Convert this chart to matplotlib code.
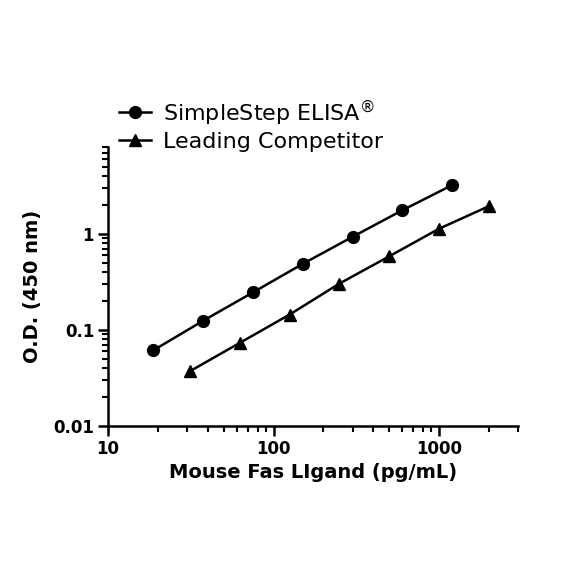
import matplotlib
matplotlib.use('Agg')
import matplotlib.pyplot as plt
from matplotlib.ticker import LogLocator, NullFormatter

# Данные кривых
simplestep_conc = [18.75, 37.5, 75, 150, 300, 600, 1200]
simplestep_od = [0.061, 0.124, 0.245, 0.486, 0.93, 1.76, 3.22]
competitor_conc = [31.25, 62.5, 125, 250, 500, 1000, 2000]
competitor_od = [0.037, 0.073, 0.144, 0.303, 0.583, 1.13, 1.94]

x_ticks = [10, 100, 1000]
x_tick_labels = ['10', '100', '1000']
y_ticks = [0.01, 0.1, 1]
y_tick_labels = ['0.01', '0.1', '1']

plt.rcParams['font.family'] = ['DejaVu Sans']

fig = plt.figure(figsize=(5.84, 5.84), dpi=100)
ax = fig.add_axes([0.185, 0.271, 0.702, 0.477])

l1, = ax.plot(simplestep_conc, simplestep_od, color='black', lw=1.8,
              marker='o', markersize=8.5, label='SimpleStep ELISA$^{®}$')
l2, = ax.plot(competitor_conc, competitor_od, color='black', lw=1.8,
              marker='^', markersize=9, label='Leading Competitor')

ax.set_xscale('log')
ax.set_yscale('log')
ax.set_xlim(10, 3000)
ax.set_ylim(0.01, 8)

ax.set_xticks(x_ticks)
ax.set_xticklabels(x_tick_labels)
ax.set_yticks(y_ticks)
ax.set_yticklabels(y_tick_labels)
ax.xaxis.set_minor_locator(LogLocator(base=10, subs=range(2, 10), numticks=20))
ax.yaxis.set_minor_locator(LogLocator(base=10, subs=range(2, 10), numticks=20))
ax.xaxis.set_minor_formatter(NullFormatter())
ax.yaxis.set_minor_formatter(NullFormatter())

for side in ['top', 'right']:
    ax.spines[side].set_visible(False)
for side in ['left', 'bottom']:
    ax.spines[side].set_linewidth(1.8)

ax.tick_params(which='major', length=7, width=1.8, labelsize=12, pad=3)
ax.tick_params(which='minor', length=4, width=1.5)
for lab in ax.get_xticklabels() + ax.get_yticklabels():
    lab.set_fontweight('bold')

ax.set_xlabel('Mouse Fas LIgand (pg/mL)', fontsize=14, fontweight='bold', labelpad=4)
ax.set_ylabel('O.D. (450 nm)', fontsize=14, fontweight='bold', labelpad=8)

ax.legend(handles=[l1, l2], loc='lower left', bbox_to_anchor=(0.004, 0.95),
          frameon=False, fontsize=16, handlelength=1.45, handletextpad=0.55,
          labelspacing=0.2, borderaxespad=0)

plt.savefig('out.png', dpi=100)
